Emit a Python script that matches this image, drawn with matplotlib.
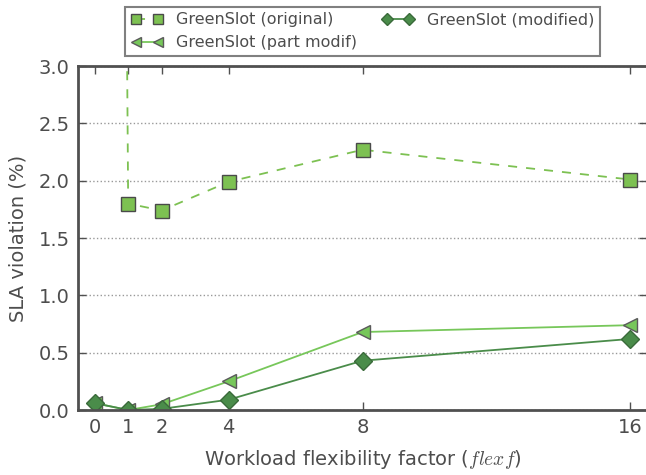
import numpy as np
import matplotlib
matplotlib.use("Agg")
import matplotlib.pyplot as plt

plt.rcParams['mathtext.fontset'] = 'cm'

flexf = [0, 1, 2, 4, 8, 16]
sla_original = [40.0, 1.80, 1.74, 1.99, 2.27, 2.01]
sla_part = [0.06, 0.0, 0.05, 0.25, 0.68, 0.74]
sla_modified = [0.06, 0.0, 0.01, 0.09, 0.43, 0.62]

txt = "#4d4d4d"
c_orig = "#7dc152"
c_part = "#77c75a"
c_mod = "#4a8c4a"

fig = plt.figure(figsize=(6.46, 4.75), dpi=100)
ax = fig.add_axes([0.1207, 0.1368, 0.881, 0.7242])

p1, = ax.plot(flexf, sla_original, color=c_orig, ls=(0, (5, 5)), lw=1.3, marker="s",
              ms=10, mfc=c_orig, mec="#4a4a4a", mew=1, label="GreenSlot (original)")
p2, = ax.plot(flexf, sla_part, color=c_part, ls="-", lw=1.3, marker="<",
              ms=10, mfc=c_part, mec="#5a5a5a", mew=1, label="GreenSlot (part modif)")
p3, = ax.plot(flexf, sla_modified, color=c_mod, ls="-", lw=1.3, marker="D",
              ms=9, mfc=c_mod, mec="#3a6a3a", mew=1, label="GreenSlot (modified)")

ax.set_xlim(-0.5, 16.5)
ax.set_ylim(0, 3.0)
ax.set_xticks(flexf)
ax.set_yticks(np.arange(0, 3.01, 0.5))
ax.yaxis.grid(True, ls=":", color="#999999", lw=1)
ax.set_axisbelow(True)

for s in ax.spines.values():
    s.set_color("#505050")
    s.set_linewidth(2)
ax.tick_params(direction="in", top=True, right=True, length=6, width=1,
               color="#505050", labelsize=14, labelcolor=txt, pad=6)

ax.set_xlabel(r"Workload flexibility factor ($flexf$)", fontsize=14, color=txt, labelpad=8)
ax.set_ylabel("SLA violation (%)", fontsize=14, color=txt, labelpad=8)

leg = ax.legend([p1, p2, p3], [p1.get_label(), p2.get_label(), p3.get_label()],
                ncol=2, loc="lower center", bbox_to_anchor=(0.5, 1.03),
                fontsize=11.5, fancybox=False, borderaxespad=0, columnspacing=1.6,
                handlelength=2, handletextpad=0.8, labelspacing=0.5, borderpad=0.35,
                numpoints=2, markerscale=0.65)
leg.get_frame().set_edgecolor("#606060")
leg.get_frame().set_linewidth(1.5)
for t in leg.get_texts():
    t.set_color(txt)

fig.savefig("out.png", dpi=100)
